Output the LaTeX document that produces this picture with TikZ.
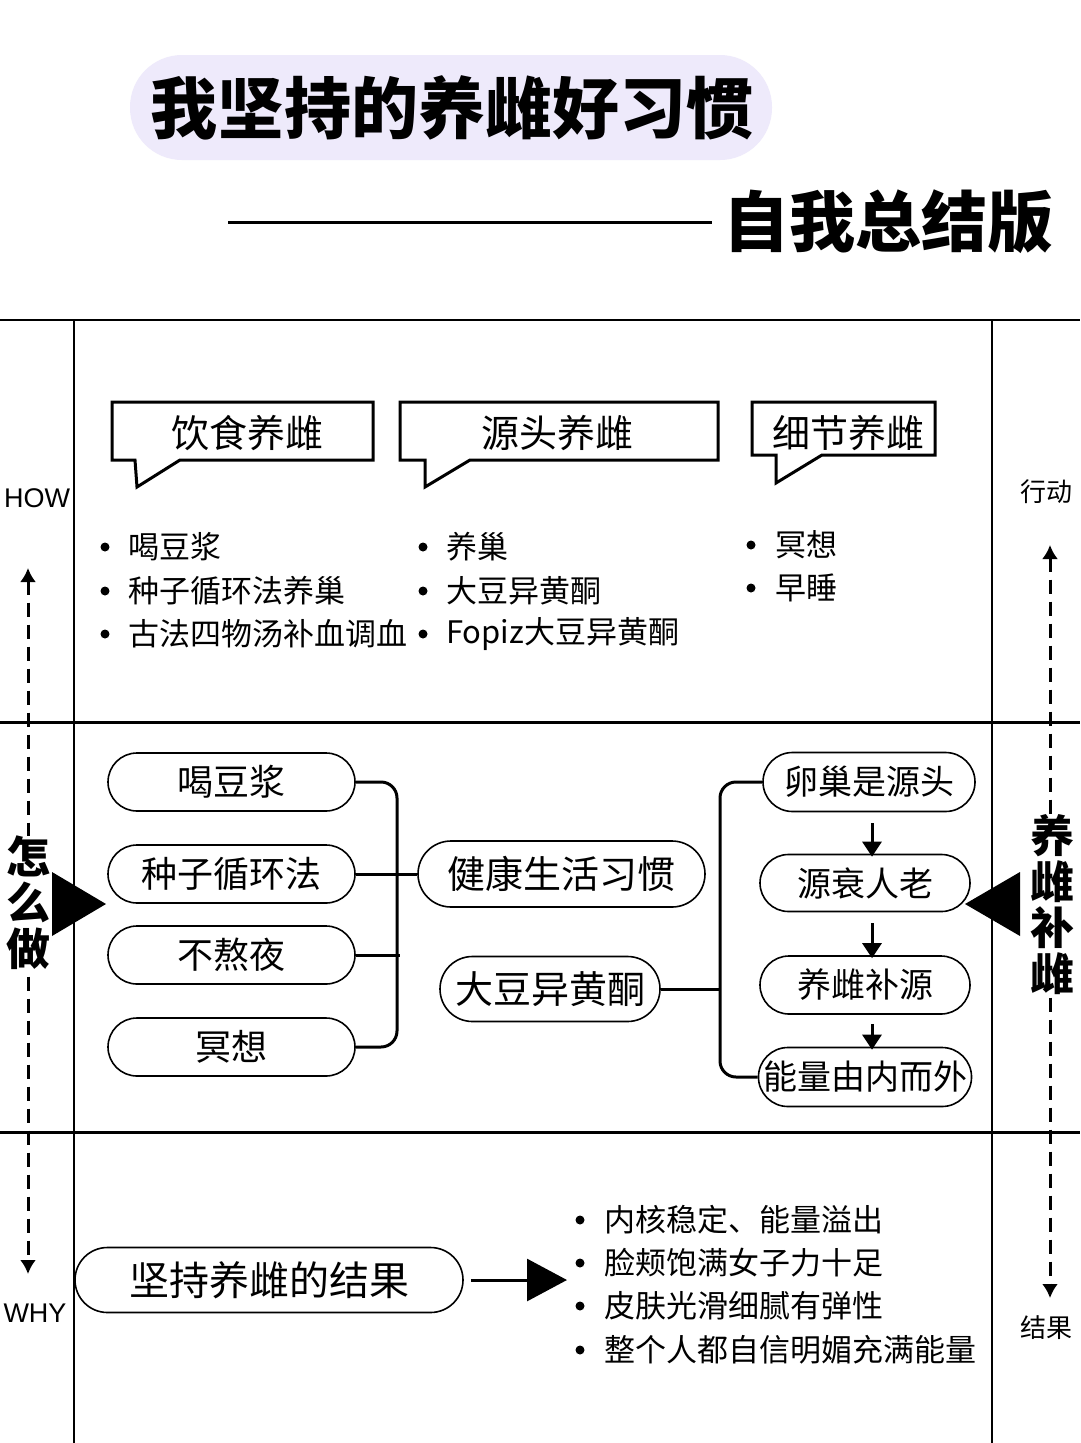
\documentclass[tikz,border=0pt]{standalone}
\usepackage{fontspec}
\setmainfont{Noto Sans CJK SC}
\newfontfamily\latinsans{Liberation Sans}
\usetikzlibrary{shapes.misc,arrows.meta}
\definecolor{lav}{HTML}{EEEAFB}
\tikzset{
  pill/.style={draw, line width=1.6pt, rounded rectangle, inner sep=0pt, font=\fontsize{34}{34}\selectfont},
  lpill/.style={pill, minimum width=247pt, minimum height=58pt, font=\fontsize{36}{36}\selectfont},
  conn/.style={line width=3pt, rounded corners=16pt},
  bubble/.style={draw, line width=3pt, line join=miter},
  btext/.style={font=\fontsize{38}{38}\selectfont, inner sep=0pt},
  item/.style={anchor=west, inner sep=0pt, font=\fontsize{31}{31}\selectfont},
  dot/.style={fill=black},
  side/.style={font=\latinsans\fontsize{27}{27}\selectfont, inner sep=0pt},
  sidecn/.style={font=\fontsize{26}{26}\selectfont, inner sep=0pt},
  vert/.style={font=\bfseries\fontsize{44}{46}\selectfont, align=center, fill=white, inner sep=0pt},
  darr/.style={line width=3pt, dash pattern=on 14pt off 8pt, {Latex[length=14pt,width=16pt]}-{Latex[length=14pt,width=16pt]}},
  smallarr/.style={line width=3pt, -{Triangle[length=15pt,width=19pt]}},
  frame/.style={line width=2pt},
  sect/.style={line width=3pt}
}
\begin{document}
\begin{tikzpicture}[x=1pt,y=-1pt]
\useasboundingbox (0,0) rectangle (1080,1443);
\fill[white] (0,0) rectangle (1080,1443);
% title
\fill[lav, rounded corners=52pt] (130,55) rectangle (772,160);
\node[font=\bfseries\fontsize{67}{67}\selectfont, inner sep=0pt] (title) at (452,108) {我坚持的养雌好习惯};
\node[font=\bfseries\fontsize{66}{66}\selectfont, inner sep=0pt] (subtitle) at (888,222) {自我总结版};
\coordinate (tl) at (228,222);
\coordinate (tr) at (712,222);
\draw[line width=3pt] (tl) -- (tr);
% frame
\draw[frame] (0,320) -- (1080,320);
\draw[frame] (74,320) -- (74,1443);
\draw[frame] (992,320) -- (992,1443);
\draw[sect] (0,722) -- (1080,722);
\draw[sect] (0,1132) -- (1080,1132);
% side labels
\node[side] (how) at (37,498) {HOW};
\node[side] (why) at (35,1313) {WHY};
\node[sidecn] (act) at (1046,492) {行动};
\node[sidecn] (res) at (1046,1328) {结果};
\coordinate (la) at (28,568);
\coordinate (lb) at (28,1274);
\coordinate (ra) at (1050,545);
\coordinate (rbb) at (1050,1298);
\draw[darr] (la) -- (lb);
\draw[darr] (ra) -- (rbb);
\node[vert] (zmz) at (28,903) {怎\\么\\做};
\node[vert] (yc) at (1052,905) {养\\雌\\补\\雌};
\fill (52,872) -- (106,904) -- (52,936) -- cycle;
\fill (1020,872) -- (965,904) -- (1020,936) -- cycle;
% speech bubbles
\draw[bubble] (112,402) -- (373,402) -- (373,460) -- (180,460) -- (137,487) -- (135,460) -- (112,460) -- cycle;
\node[btext] (b1) at (247,433) {饮食养雌};
\draw[bubble] (400,402) -- (718,402) -- (718,460) -- (470,460) -- (425,487) -- (425,460) -- (400,460) -- cycle;
\node[btext] (b2) at (557,433) {源头养雌};
\draw[bubble] (752,402) -- (935,402) -- (935,455) -- (822,455) -- (776,483) -- (776,455) -- (752,455) -- cycle;
\node[btext] (b3) at (848,433) {细节养雌};
% bullet lists
\foreach \y in {547,591,634} \fill[dot] (105,\y) circle (4.5pt);
\node[item] (l1) at (128,547) {喝豆浆};
\node[item] (l2) at (128,591) {种子循环法养巢};
\node[item] (l3) at (128,634) {古法四物汤补血调血};
\foreach \y in {547,591,634} \fill[dot] (423,\y) circle (4.5pt);
\node[item] (m1) at (446,547) {养巢};
\node[item] (m2) at (446,591) {大豆异黄酮};
\node[item] (m3) at (446,634) {Fopiz大豆异黄酮};
\foreach \y in {545,588} \fill[dot] (751,\y) circle (4.5pt);
\node[item] (n1) at (775,545) {冥想};
\node[item] (n2) at (775,588) {早睡};
% middle: left pills
\node[lpill] (p1) at (231.5,782) {喝豆浆};
\node[lpill] (p2) at (231.5,874) {种子循环法};
\node[lpill] (p3) at (231.5,955) {不熬夜};
\node[lpill] (p4) at (231.5,1047) {冥想};
\node[pill, minimum width=287pt, minimum height=66pt, font=\fontsize{38}{38}\selectfont] (health) at (561.5,874) {健康生活习惯};
\node[pill, minimum width=220pt, minimum height=65pt, font=\fontsize{38}{38}\selectfont] (soy) at (550,989) {大豆异黄酮};
\coordinate (lbx) at (397,914);
\draw[conn] (p1.east) -| (lbx) |- (p4.east);
\draw[line width=3pt] (p2.east) -- (health.west);
\coordinate (p3e) at (400,955);
\draw[line width=3pt] (p3.east) -- (p3e);
% right pills
\node[pill, minimum width=212pt, minimum height=59pt] (r1) at (869,782) {卵巢是源头};
\node[pill, minimum width=210pt, minimum height=57pt] (r2) at (865,883) {源衰人老};
\node[pill, minimum width=210pt, minimum height=58pt] (r3) at (865,985) {养雌补源};
\node[pill, minimum width=210pt, minimum height=59pt] (r4) at (865,1077) {能量由内而外};
\coordinate (rbx) at (720,930);
\draw[conn] (r1.west) -| (rbx) |- (r4.west);
\draw[line width=3pt] (soy.east) -- (soy.east -| rbx);
\coordinate (ax) at (872,0);
\draw[smallarr] (r1.south -| ax) ++(0,11) -- ([yshift=-3pt]r2.north -| ax);
\draw[smallarr] (r2.south -| ax) ++(0,11) -- ([yshift=-3pt]r3.north -| ax);
\draw[smallarr] (r3.south -| ax) ++(0,9) -- ([yshift=-3pt]r4.north -| ax);
% bottom
\node[pill, minimum width=388pt, minimum height=65pt, font=\fontsize{40}{40}\selectfont] (result) at (269,1280) {坚持养雌的结果};
\coordinate (rt) at (567,1280);
\draw[line width=3pt, shorten <=7pt, -{Triangle[length=40pt,width=42pt]}] (result.east) -- (rt);
\foreach \y in {1220,1263,1306,1350} \fill[dot] (580,\y) circle (4.5pt);
\node[item] (o1) at (604,1220) {内核稳定、能量溢出};
\node[item] (o2) at (604,1263) {脸颊饱满女子力十足};
\node[item] (o3) at (604,1306) {皮肤光滑细腻有弹性};
\node[item] (o4) at (604,1350) {整个人都自信明媚充满能量};
\end{tikzpicture}
\end{document}
